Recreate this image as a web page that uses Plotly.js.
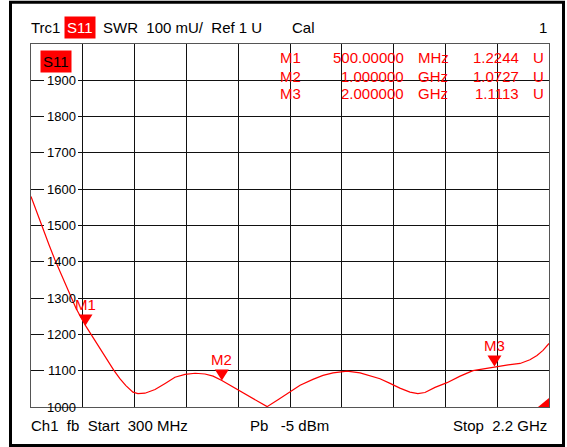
<!DOCTYPE html>
<html><head><meta charset="utf-8">
<script src="https://cdn.plot.ly/plotly-3.0.1.min.js"></script>
<style>html,body{margin:0;padding:0;background:#fff;}#chart{width:567px;height:447px;}</style>
</head><body><div id="chart"></div>
<script>
// ---- data ----
const freqMHz = [300,322,344,366,388,410,436,465,500,524,553,582,604,626,648,674,692,718,755,792,828,865,902,938,968,1000,1056,1111,1166,1206,1250,1287,1334,1371,1408,1459,1507,1543,1580,1617,1653,1690,1719,1745,1782,1826,1874,1921,2000,2050,2094,2130,2156,2178,2200];
const swrMilliU = [1580,1534,1490,1447,1405,1366,1320,1272,1224,1195,1160,1127,1101,1078,1059,1041,1037,1038,1048,1065,1082,1090,1093,1091,1085,1073,1048,1024,1001,1020,1042,1060,1076,1087,1094,1099,1094,1087,1078,1065,1052,1041,1037,1040,1054,1067,1085,1100,1111,1116,1120,1130,1142,1156,1175];
const markerNames = ["M1","M2","M3"];
const markerFreqMHz = [500,1000,2000];
const markerSwr = [1224.4,1072.7,1111.3];
const markerFreqText = ["500.00000","1.000000","2.000000"];
const markerFreqUnit = ["MHz","GHz","GHz"];
const markerValText = ["1.2244","1.0727","1.1113"];
const yTickVals = [1000,1100,1200,1300,1400,1500,1600,1700,1800,1900];

// ---- layout helpers ----
const W=567,H=447,PL=31,PR=549,PT=44,PB=407;
const px = x => (x-PL)/(PR-PL);
const py = y => (PB-y)/(PB-PT);
const FONT = "Liberation Sans, Arial, sans-serif";
const anns = [];
function txt(text,x,y,xanchor,opt){
  opt = opt||{};
  anns.push(Object.assign({xref:'paper',yref:'paper',x:px(x),y:py(y),xanchor:xanchor,yanchor:'middle',
    text:text,showarrow:false,font:{family:FONT,size:opt.size||15,color:opt.color||'#000'}},opt.extra||{}));
}
// header
txt("Trc1",29,27,'left');
txt("S11",80,27,'center',{color:'#fff',extra:{bgcolor:'#ff0000',borderpad:2}});
txt("SWR&nbsp;&nbsp;100 mU/&nbsp;&nbsp;Ref 1 U",101,27,'left');
txt("Cal",290,27,'left');
txt("1",549,27,'right');
// plot label
txt("S11",55.5,61,'center',{extra:{bgcolor:'#ff0000',borderpad:2}});
// marker table
const rowY=[58,76,94];
for(let i=0;i<3;i++){
  txt(markerNames[i],278,rowY[i],'left',{color:'#ff0000'});
  txt(markerFreqText[i],406,rowY[i],'right',{color:'#ff0000'});
  txt(markerFreqUnit[i],416,rowY[i],'left',{color:'#ff0000'});
  txt(markerValText[i],521,rowY[i],'right',{color:'#ff0000'});
  txt("U",531,rowY[i],'left',{color:'#ff0000'});
}
// footer
txt("Ch1&nbsp;&nbsp;fb&nbsp;&nbsp;Start&nbsp;&nbsp;300 MHz",29,425,'left');
txt("Pb&nbsp;&nbsp;&nbsp;-5 dBm",248,425,'left');
txt("Stop&nbsp;&nbsp;2.2 GHz",549,425,'right');

const shapes = [];
// y tick labels inside first column; white gaps in grid drawn above grid, below trace
yTickVals.forEach((v,i)=>{
  shapes.push({type:'rect',xref:'x',yref:'y',xsizemode:'pixel',ysizemode:'pixel',xanchor:300,yanchor:v,
    x0:13,x1:47,y0:-6,y1:6,fillcolor:'#fff',line:{width:0},layer:(i===0?'above':'between')});
  anns.push({xref:'paper',yref:'y',x:px(77),y:v,xanchor:'right',yanchor:'middle',text:String(v),showarrow:false,
    borderpad:0,font:{family:FONT,size:13,color:'#000'}});
});
// marker labels
markerNames.forEach((m,i)=>{
  anns.push({xref:'x',yref:'y',x:markerFreqMHz[i],y:markerSwr[i],xanchor:'center',yanchor:'middle',yshift:21,
    text:m,showarrow:false,font:{family:FONT,size:15,color:'#ff0000'}});
});
// marker triangles (pixel-sized, anchored at marker point)
markerNames.forEach((m,i)=>{
  shapes.push({type:'path',xref:'x',yref:'y',xsizemode:'pixel',ysizemode:'pixel',
    xanchor:markerFreqMHz[i],yanchor:markerSwr[i],path:'M -7 11 L 7 11 L 0 0 Z',
    fillcolor:'#ff0000',line:{width:0},layer:'above'});
});
// small corner triangle
shapes.push({type:'path',xref:'x',yref:'y',xsizemode:'pixel',ysizemode:'pixel',
  xanchor:2200,yanchor:1000,path:'M 0 0 L -11 0 L 0 9 Z',fillcolor:'#ff0000',line:{width:0},layer:'above'});
// outer frame
shapes.push({type:'rect',xref:'paper',yref:'paper',x0:px(10.5),x1:px(563.5),y0:py(2.2),y1:py(445.5),
  line:{color:'#000',width:3},fillcolor:'rgba(0,0,0,0)'});

const trace = {x:freqMHz,y:swrMilliU,type:'scatter',mode:'lines',line:{color:'#ff0000',width:1.2},hoverinfo:'skip',cliponaxis:true};

const layout = {
  width:W,height:H,margin:{l:PL,r:W-PR,t:PT,b:H-PB,pad:0},
  paper_bgcolor:'#fff',plot_bgcolor:'#fff',showlegend:false,
  xaxis:{range:[300,2200],dtick:190,tick0:300,showgrid:true,gridcolor:'#111',gridwidth:1,zeroline:false,
    showticklabels:false,ticks:'',showline:true,linecolor:'#555',linewidth:1,mirror:true,fixedrange:true},
  yaxis:{range:[1000,2000],dtick:100,tick0:1000,showgrid:true,gridcolor:'#111',gridwidth:1,zeroline:false,
    showticklabels:false,ticks:'',showline:true,linecolor:'#555',linewidth:1,mirror:true,fixedrange:true},
  annotations:anns,shapes:shapes
};
Plotly.newPlot('chart',[trace],layout,{staticPlot:true,displayModeBar:false});
</script></body></html>
